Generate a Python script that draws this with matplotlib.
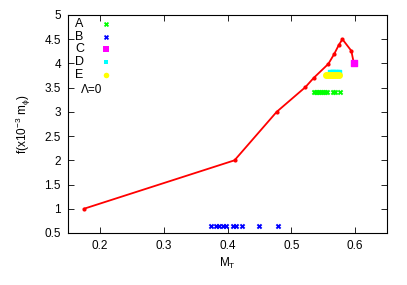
"""Recreation of f vs M_T chart."""

import matplotlib

matplotlib.use("Agg")
import matplotlib.pyplot as plt

plt.rcParams["font.family"] = ["Liberation Sans", "DejaVu Sans"]
plt.rcParams["font.size"] = 8.5

# red curve
line_x = [0.175, 0.411, 0.477, 0.522, 0.535, 0.558, 0.567, 0.574, 0.580, 0.594, 0.598]
line_y = [1.0, 2.0, 3.0, 3.51, 3.70, 3.99, 4.19, 4.37, 4.50, 4.26, 4.0]

# A (green)
a_x = [0.535, 0.538, 0.541, 0.544, 0.547, 0.550, 0.553, 0.556, 0.565, 0.569, 0.576]
a_y = [3.40] * len(a_x)
# B (blue)
b_x = [0.374, 0.382, 0.387, 0.393, 0.398, 0.408, 0.413, 0.423, 0.450, 0.479]
b_y = [0.65] * len(b_x)
# C (magenta)
c_x = [0.598]
c_y = [4.0]
# D (cyan)
d_x = [0.560, 0.563, 0.566, 0.569, 0.572, 0.575]
d_y = [3.82] * len(d_x)
# E (yellow)
e_x = [0.554, 0.557, 0.560, 0.563, 0.566, 0.569, 0.572, 0.575]
e_y = [3.76] * len(e_x)

x_ticks = [0.2, 0.3, 0.4, 0.5, 0.6]
y_ticks = [0.5, 1, 1.5, 2, 2.5, 3, 3.5, 4, 4.5, 5]

fig = plt.figure(figsize=(4.07, 2.85), dpi=100)
ax = fig.add_axes([0.167, 0.1825, 0.784, 0.765])

ax.plot(line_x, line_y, color="#ff0000", lw=1.3, marker="o", ms=2, zorder=3)
ax.scatter(e_x, e_y, color="#ffff00", marker="o", s=16, zorder=2)
ax.scatter(d_x, d_y, color="#00ffff", marker="s", s=12, zorder=1)
ax.scatter(a_x, a_y, color="#00ff00", marker="X", s=16, lw=0, zorder=2)
ax.scatter(b_x, b_y, color="#0000ff", marker="X", s=16, lw=0, zorder=2)
ax.scatter(c_x, c_y, color="#ff00ff", marker="s", s=22, zorder=4)

# gnuplot-style key
keys = [("A", "#00ff00", "X", 14), ("B", "#0000ff", "X", 14),
        ("C", "#ff00ff", "s", 16), ("D", "#00ffff", "s", 9),
        ("E", "#ffff00", "o", 16)]
for i, (lab, col, mk, sz) in enumerate(keys):
    yy = 0.958 - i * 0.058
    ax.text(0.022, yy, lab, transform=ax.transAxes, ha="left", va="center", fontsize=9)
    ax.scatter([0.119], [yy], transform=ax.transAxes, color=col, marker=mk, s=sz, lw=0)
ax.text(0.04, 0.655, "Λ=0", transform=ax.transAxes, ha="left", va="center", fontsize=8.5)

ax.set_xlim(0.15, 0.65)
ax.set_ylim(0.5, 5)
ax.set_xticks(x_ticks)
ax.set_xticklabels(["0.2", "0.3", "0.4", "0.5", "0.6"])
ax.set_yticks(y_ticks)
ax.set_yticklabels(["0.5", "1", "1.5", "2", "2.5", "3", "3.5", "4", "4.5", "5"])
ax.tick_params(direction="in", top=True, right=True, length=4, width=0.6, pad=5)
for sp in ax.spines.values():
    sp.set_linewidth(0.8)

ax.set_xlabel("M$_\\mathregular{T}$", labelpad=3)
ax.set_ylabel("f(x10$^\\mathregular{-3}$ m$_\\mathregular{\\phi}$)", labelpad=8)

fig.savefig("out.png", dpi=100)
